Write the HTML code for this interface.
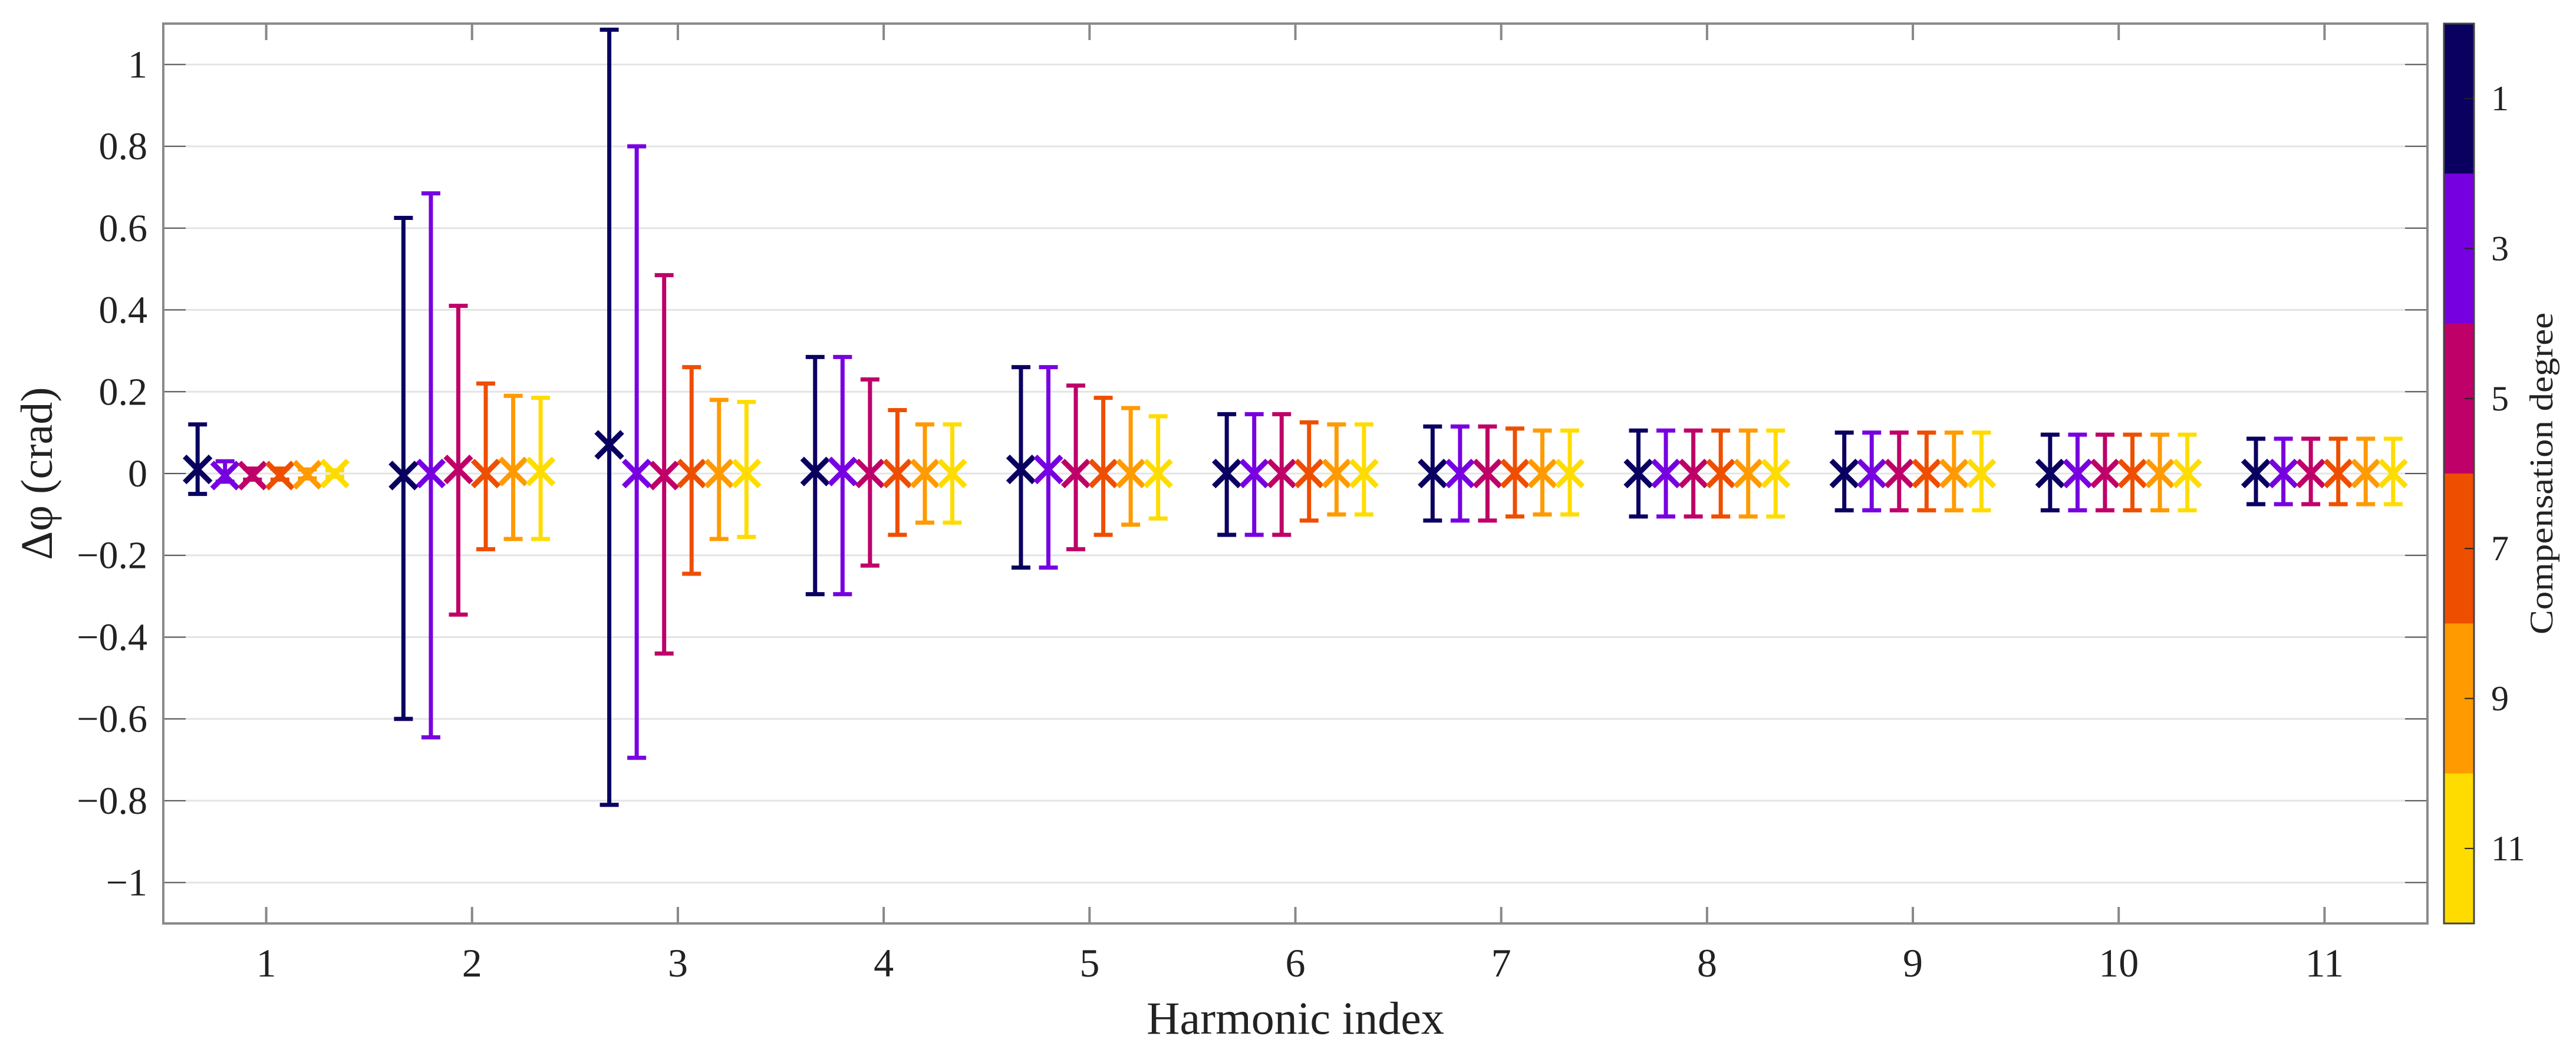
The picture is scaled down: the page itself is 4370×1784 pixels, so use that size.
<!DOCTYPE html>
<html><head><meta charset="utf-8"><style>
html,body{margin:0;padding:0;background:#fff;}
svg{display:block;font-family:"Liberation Serif",serif;}
</style></head><body>
<svg id="chart" width="4370" height="1784" viewBox="0 0 4370 1784" xmlns="http://www.w3.org/2000/svg"></svg>
<script>
const harmonics = [1,2,3,4,5,6,7,8,9,10,11];
const degrees = [1,3,5,7,9,11];
const colors = ['#0a0060','#7700e0','#be0068','#ee4e00','#ff9a00','#ffdc00'];
const yTicks = [-1,-0.8,-0.6,-0.4,-0.2,0,0.2,0.4,0.6,0.8,1];
const yTickLabels = ['\u22121','\u22120.8','\u22120.6','\u22120.4','\u22120.2','0','0.2','0.4','0.6','0.8','1'];
// centers per degree (series), per harmonic
const center1  = [0.01,-0.005,0.07,0.005,0.01,0,0,0,0,0,0];
const center3  = [-0.005,0,0,0.005,0.01,0,0,0,0,0,0];
const center5  = [-0.005,0.01,-0.005,0,0,0,0,0,0,0,0];
const center7  = [-0.005,0,0,0,0,0,0,0,0,0,0];
const center9  = [-0.003,0.005,0,0,0,0,0,0,0,0,0];
const center11 = [0,0.005,0,0,0,0,0,0,0,0,0];
const upper1  = [0.12,0.625,1.085,0.285,0.26,0.145,0.115,0.105,0.10,0.095,0.085];
const upper3  = [0.03,0.685,0.80,0.285,0.26,0.145,0.115,0.105,0.10,0.095,0.085];
const upper5  = [0.012,0.41,0.485,0.23,0.215,0.145,0.115,0.105,0.10,0.095,0.085];
const upper7  = [0.012,0.22,0.26,0.155,0.185,0.125,0.11,0.105,0.10,0.095,0.085];
const upper9  = [0.01,0.19,0.18,0.12,0.16,0.12,0.105,0.105,0.10,0.095,0.085];
const upper11 = [0.008,0.185,0.175,0.12,0.14,0.12,0.105,0.105,0.10,0.095,0.085];
const lower1  = [-0.05,-0.6,-0.81,-0.295,-0.23,-0.15,-0.115,-0.105,-0.09,-0.09,-0.075];
const lower3  = [-0.02,-0.645,-0.695,-0.295,-0.23,-0.15,-0.115,-0.105,-0.09,-0.09,-0.075];
const lower5  = [-0.015,-0.345,-0.44,-0.225,-0.185,-0.15,-0.115,-0.105,-0.09,-0.09,-0.075];
const lower7  = [-0.015,-0.185,-0.245,-0.15,-0.15,-0.115,-0.105,-0.105,-0.09,-0.09,-0.075];
const lower9  = [-0.012,-0.16,-0.16,-0.12,-0.125,-0.10,-0.10,-0.105,-0.09,-0.09,-0.075];
const lower11 = [-0.008,-0.16,-0.155,-0.12,-0.11,-0.10,-0.10,-0.105,-0.09,-0.09,-0.075];
const centers=[center1,center3,center5,center7,center9,center11];
const uppers=[upper1,upper3,upper5,upper7,upper9,upper11];
const lowers=[lower1,lower3,lower5,lower7,lower9,lower11];

const NS='http://www.w3.org/2000/svg';
const svg=document.getElementById('chart');
const L=277,R=4118,T=40,B=1566;
const xMin=0.5,xMax=11.5,yMin=-1.1,yMax=1.1;
function xS(v){return L+(v-xMin)/(xMax-xMin)*(R-L);}
function yS(v){return B-(v-yMin)/(yMax-yMin)*(B-T);}
function mk(tag,attrs,parent){const e=document.createElementNS(NS,tag);for(const k in attrs)e.setAttribute(k,attrs[k]);(parent||svg).appendChild(e);return e;}

// grid + y ticks
yTicks.forEach((t,i)=>{
  const y=yS(t);
  const g=mk('line',{x1:L,x2:R,y1:y,y2:y,stroke:'#e4e4e4','stroke-width':3});
  
  
  mk('line',{x1:L,x2:L+38,y1:y,y2:y,stroke:'#555','stroke-width':2});
  mk('line',{x1:R-38,x2:R,y1:y,y2:y,stroke:'#555','stroke-width':2});
  const tx=mk('text',{x:250,y:y+22,'text-anchor':'end','font-size':66,fill:'#222'});
  tx.textContent=yTickLabels[i];
  
  
});
// x ticks
harmonics.forEach(h=>{
  const x=xS(h);
  mk('line',{x1:x,x2:x,y1:T,y2:T+28,stroke:'#888','stroke-width':4});
  mk('line',{x1:x,x2:x,y1:B-28,y2:B,stroke:'#888','stroke-width':4});
  const tx=mk('text',{x:x,y:1656,'text-anchor':'middle','font-size':68,fill:'#222'});
  tx.textContent=h;
  
  
});
// axes box
const box=mk('rect',{x:L,y:T,width:R-L,height:B-T,fill:'none',stroke:'#8a8a8a','stroke-width':4});



// series
const step=0.1333;
degrees.forEach((d,s)=>{
  const g=mk('g',{});
  
  
  harmonics.forEach((h,i)=>{
    const x=xS(h+(s-2.5)*step);
    const yc=yS(centers[s][i]),yu=yS(uppers[s][i]),yl=yS(lowers[s][i]);
    const c=colors[s];
    const bar=mk('path',{d:`M${x},${yu}V${yl}M${x-16},${yu}H${x+16}M${x-16},${yl}H${x+16}`,stroke:c,'stroke-width':7,fill:'none'},g);
    
    
    const m=22;
    const mkx=mk('path',{d:`M${x-m},${yc-m}L${x+m},${yc+m}M${x-m},${yc+m}L${x+m},${yc-m}`,stroke:c,'stroke-width':9,fill:'none'},g);
    
    
  });
});

// axis titles
const xt=mk('text',{x:(L+R)/2,y:1753,'text-anchor':'middle','font-size':78,fill:'#222'});
xt.textContent='Harmonic index';


const yt=mk('text',{x:0,y:0,'text-anchor':'middle','font-size':76,fill:'#222',transform:'translate(88,803) rotate(-90)'});
yt.textContent='\u0394\u03c6 (crad)';



// colorbar
const CL=4146,CR=4197;
const bandH=(B-T)/degrees.length;
degrees.forEach((d,s)=>{
  const r=mk('rect',{x:CL,y:T+s*bandH,width:CR-CL,height:bandH+0.5,fill:colors[s]});
  
  
  const yc=T+(s+0.5)*bandH;
  mk('line',{x1:CR-16,x2:CR,y1:yc,y2:yc,stroke:'#222','stroke-width':2});
  const tx=mk('text',{x:4226,y:yc+20,'font-size':60,fill:'#222'});
  tx.textContent=d;
  
  
});
const cbf=mk('rect',{x:CL,y:T,width:CR-CL,height:B-T,fill:'none',stroke:'#444','stroke-width':3});


const ct=mk('text',{x:0,y:0,'text-anchor':'middle','font-size':56,fill:'#222',textLength:546,lengthAdjust:'spacingAndGlyphs',transform:'translate(4330,803) rotate(-90)'});
ct.textContent='Compensation degree';


</script>
</body></html>
